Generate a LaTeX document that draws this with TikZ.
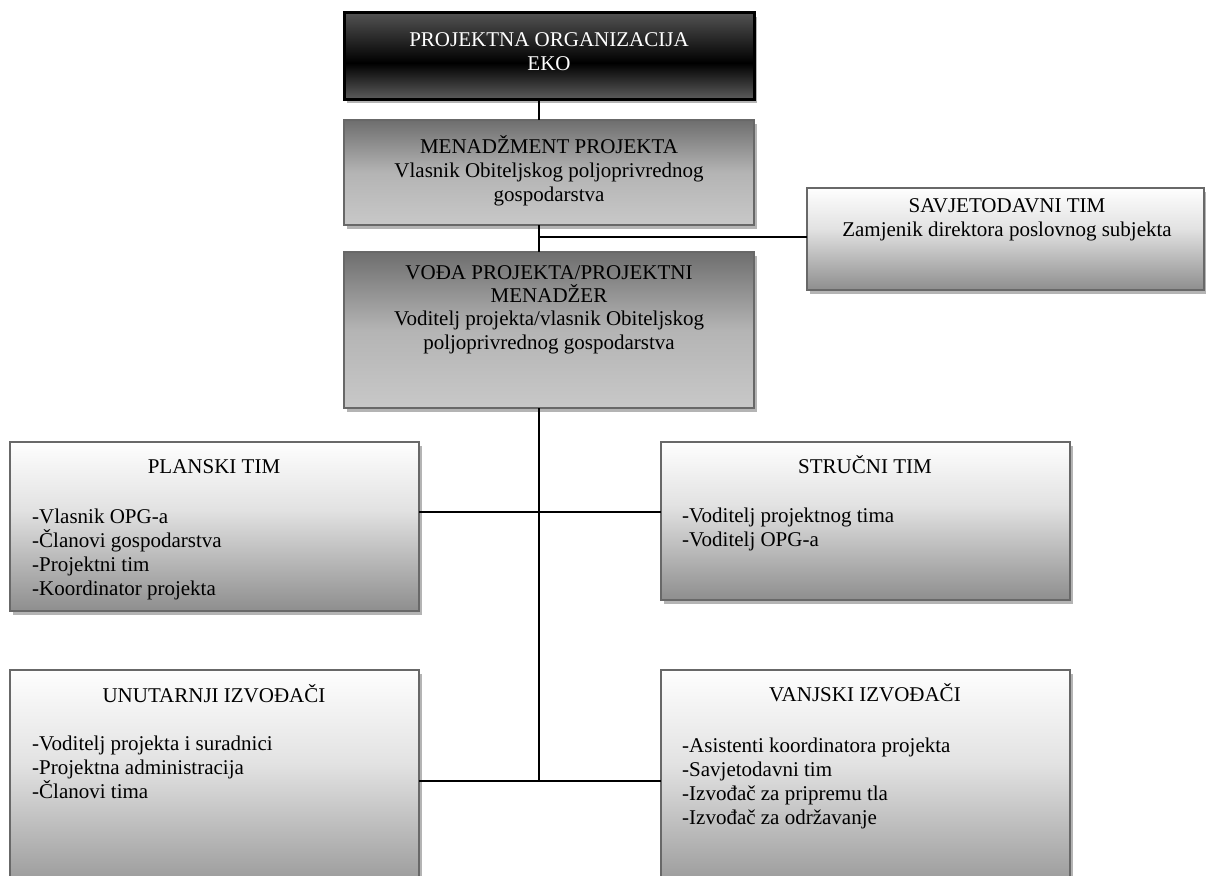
\documentclass[tikz,border=0pt]{standalone}
\usepackage{fontspec}
\setmainfont{Liberation Serif}
\usetikzlibrary{shadows}
\definecolor{bordergray}{HTML}{686868}
\definecolor{shadowgray}{HTML}{B4B4B4}
\definecolor{dktop}{HTML}{525252}
\definecolor{dkbot}{HTML}{5C5C5C}
\definecolor{mdtop}{HTML}{6E6E6E}
\definecolor{mdmid}{HTML}{B4B4B4}
\definecolor{mdbot}{HTML}{C8C8C8}
\definecolor{lttop}{HTML}{FEFEFE}
\definecolor{ltmid}{HTML}{E2E2E2}
\definecolor{ltbot}{HTML}{8E8E8E}
\pgfdeclareverticalshading{darkbox}{100bp}{color(0bp)=(dkbot); color(25bp)=(dkbot); color(46bp)=(black); color(75bp)=(dktop); color(100bp)=(dktop)}
\pgfdeclareverticalshading{midbox}{100bp}{color(0bp)=(mdbot); color(25bp)=(mdbot); color(50bp)=(mdmid); color(75bp)=(mdtop); color(100bp)=(mdtop)}
\pgfdeclareverticalshading{lightbox}{100bp}{color(0bp)=(ltbot); color(25bp)=(ltbot); color(55bp)=(ltmid); color(75bp)=(lttop); color(100bp)=(lttop)}
\newcommand\tstrut{\rule{0pt}{20pt}}
\begin{document}
\begin{tikzpicture}[x=1pt,y=-1pt,
  box/.style={rectangle, anchor=north west, inner sep=0pt, outer sep=0pt,
    draw=bordergray, line width=2.5pt,
    drop shadow={shadow xshift=3pt, shadow yshift=-4pt, fill=shadowgray, opacity=1}},
  txt/.style={inner sep=0pt, font=\fontsize{21}{24.15}\selectfont, align=center, anchor=north},
  lst/.style={inner sep=0pt, font=\fontsize{21}{24.15}\selectfont, align=left, anchor=north west},
  conn/.style={draw=black, line width=2pt}]
\useasboundingbox (0,0) rectangle (1206,875);
\fill[white] (0,0) rectangle (1206,875);
% boxes
\node[box, shading=darkbox, draw=black, line width=3pt, minimum width=410pt, minimum height=86pt] (top) at (344,13) {};
\node[box, shading=midbox, minimum width=410pt, minimum height=105pt] (men) at (344,120) {};
\node[box, shading=midbox, minimum width=410pt, minimum height=156pt] (voda) at (344,252) {};
\node[box, shading=lightbox, minimum width=397pt, minimum height=102pt] (sav) at (807,188) {};
\node[box, shading=lightbox, minimum width=409pt, minimum height=169pt] (plan) at (10,442) {};
\node[box, shading=lightbox, minimum width=409pt, minimum height=158pt] (str) at (661,442) {};
\node[box, shading=lightbox, minimum width=409pt, minimum height=235pt] (unu) at (10,670) {};
\node[box, shading=lightbox, minimum width=409pt, minimum height=235pt] (van) at (661,670) {};
% texts
\node[txt, text=white] (toptxt) at (549,26) {\tstrut PROJEKTNA ORGANIZACIJA\\EKO};
\node[txt] (mentxt) at (549,133) {\tstrut MENADŽMENT PROJEKTA\\Vlasnik Obiteljskog poljoprivrednog\\gospodarstva};
\node[txt, font=\fontsize{21}{23.3}\selectfont] (vodatxt) at (549,259) {\tstrut VOĐA PROJEKTA/PROJEKTNI\\MENADŽER\\Voditelj projekta/vlasnik Obiteljskog\\poljoprivrednog gospodarstva};
\node[txt] (savtxt) at (1007,192) {\tstrut SAVJETODAVNI TIM\\Zamjenik direktora poslovnog subjekta};
\node[txt] (plantitle) at (214,453) {\tstrut PLANSKI TIM};
\node[lst] (planlist) at (32,503) {\tstrut -Vlasnik OPG-a\\-Članovi gospodarstva\\-Projektni tim\\-Koordinator projekta};
\node[txt] (strtitle) at (865,453) {\tstrut STRUČNI TIM};
\node[lst] (strlist) at (682,502) {\tstrut -Voditelj projektnog tima\\-Voditelj OPG-a};
\node[txt] (unutitle) at (214,682) {\tstrut UNUTARNJI IZVOĐAČI};
\node[lst] (unulist) at (32,730) {\tstrut -Voditelj projekta i suradnici\\-Projektna administracija\\-Članovi tima};
\node[txt] (vantitle) at (865,681) {\tstrut VANJSKI IZVOĐAČI};
\node[lst] (vanlist) at (682,732) {\tstrut -Asistenti koordinatora projekta\\-Savjetodavni tim\\-Izvođač za pripremu tla\\-Izvođač za održavanje};
% connectors
\coordinate (sp) at (539,0);
\coordinate (j1) at (539,237);
\coordinate (j2) at (539,512);
\coordinate (j3) at (539,781);
\draw[conn] (top.south -| sp) -- (men.north -| sp);
\draw[conn] (men.south -| sp) -- (voda.north -| sp);
\draw[conn] (j1) -- (j1 -| sav.west);
\draw[conn] (voda.south -| sp) -- (j3);
\draw[conn] (j2 -| plan.east) -- (j2 -| str.west);
\draw[conn] (j3 -| unu.east) -- (j3 -| van.west);
\end{tikzpicture}
\end{document}
